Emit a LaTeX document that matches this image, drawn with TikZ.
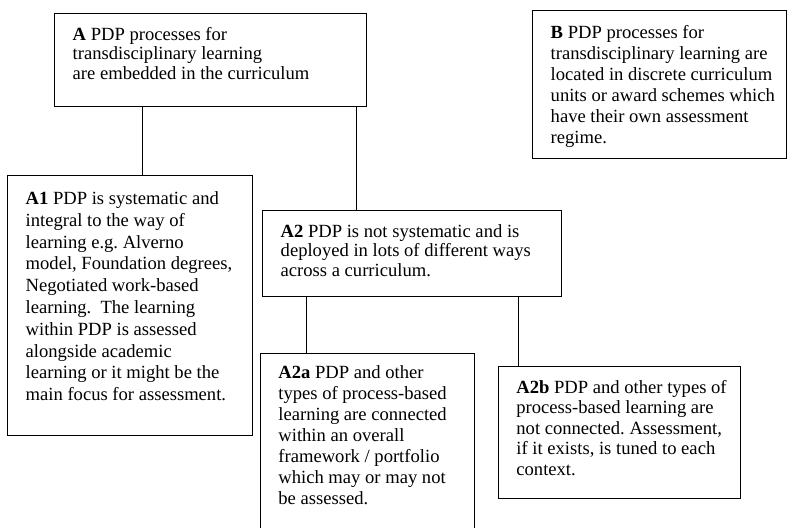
\documentclass[tikz,border=0pt]{standalone}
\usepackage{fontspec}
\setmainfont{Liberation Serif}
\frenchspacing
\newcommand{\feldtext}[4]{\parbox[t][#2][t]{#1}{\leftskip=18pt\rule{0pt}{#3}#4}}
\begin{document}
\begin{tikzpicture}[x=1pt, y=-1pt,
  kasten/.style={draw, line width=0.8pt, anchor=north west, inner sep=0pt,
    font=\fontsize{18.6}{#1}\selectfont},
  kasten/.default=19.6,
  linie/.style={line width=0.8pt}]
\useasboundingbox (0,0) rectangle (788,528);
% Kästen oben:
\node[kasten=19.5] (A) at (54.3,12.7) {\feldtext{311.4pt}{93pt}{27pt}{%
  \textbf{A} PDP processes for\\
  transdisciplinary learning\\
  are embedded in the curriculum}};
\node[kasten=21] (B) at (532.3,10) {\feldtext{254pt}{148pt}{27.7pt}{%
  \textbf{B} PDP processes for\\
  transdisciplinary learning are\\
  located in discrete curriculum\\
  units or award schemes which\\
  have their own assessment\\
  regime.}};
% Kästen Mitte:
\node[kasten=21.8] (A1) at (7.3,175) {\feldtext{244.4pt}{260pt}{29pt}{%
  \textbf{A1} PDP is systematic and\\
  integral to the way of\\
  learning e.g. Alverno\\
  model, Foundation degrees,\\
  Negotiated work-based\\
  learning.\ \ The learning\\
  within PDP is assessed\\
  alongside academic\\
  learning or it might be the\\
  main focus for assessment.}};
\node[kasten=19.6] (A2) at (262.3,210) {\feldtext{298.7pt}{86pt}{26.7pt}{%
  \textbf{A2} PDP is not systematic and is\\
  deployed in lots of different ways\\
  across a curriculum.}};
% Kästen unten:
\node[kasten=21] (A2a) at (260,353) {\feldtext{214pt}{180pt}{25pt}{%
  \textbf{A2a} PDP and other\\
  types of process-based\\
  learning are connected\\
  within an overall\\
  framework / portfolio\\
  which may or may not\\
  be assessed.}};
\node[kasten=20.5] (A2b) at (498,366) {\feldtext{242pt}{131.5pt}{27pt}{%
  \textbf{A2b} PDP and other types of\\
  process-based learning are\\
  not connected. Assessment,\\
  if it exists, is tuned to each\\
  context.}};
% Verbindungen:
\coordinate (xA1) at (142,0);
\coordinate (xA2) at (356.5,0);
\coordinate (xA2a) at (306.5,0);
\coordinate (xA2b) at (518.5,0);
\draw [linie] (A.south -| xA1) -- (A1.north -| xA1);
\draw [linie] (A.south -| xA2) -- (A2.north -| xA2);
\draw [linie] (A2.south -| xA2a) -- (A2a.north -| xA2a);
\draw [linie] (A2.south -| xA2b) -- (A2b.north -| xA2b);
\end{tikzpicture}
\end{document}
